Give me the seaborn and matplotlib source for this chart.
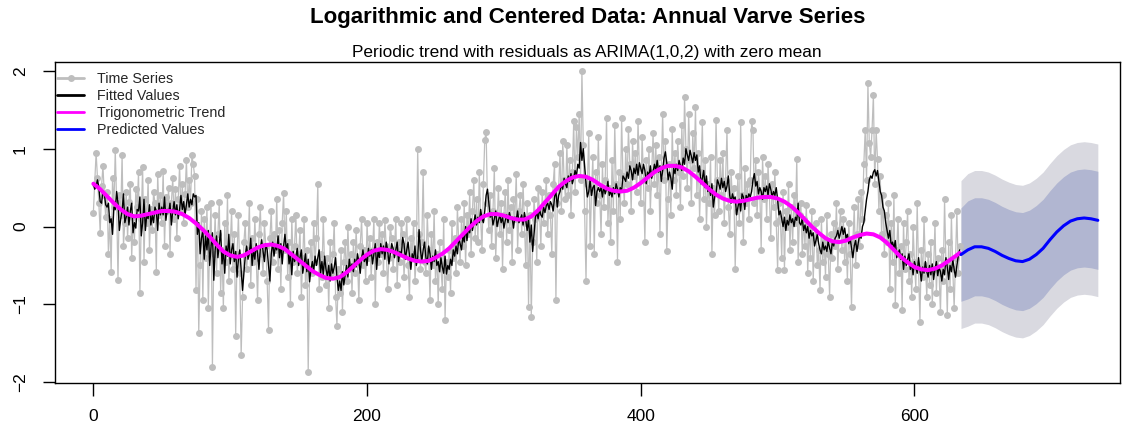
import numpy as np
import matplotlib
matplotlib.use("Agg")
import matplotlib.pyplot as plt
import seaborn as sns
from matplotlib.lines import Line2D

# ---------------- data ----------------
log_varve = [
    0.18, 0.55, 0.95, 0.62, 0.30, -0.08, 0.52, 0.78, 0.40, 0.12,
    0.45, -0.35, 0.10, -0.58, 0.62, 0.25, 0.98, 0.30, -0.69, 0.40,
    0.15, 0.92, -0.25, 0.05, 0.45, -0.15, 0.32, 0.55, -0.40, 0.12,
    -0.20, 0.48, 0.25, 0.70, -0.86, 0.10, 0.77, -0.45, 0.35, 0.05,
    0.60, -0.30, 0.22, -0.05, 0.45, 0.30, -0.58, 0.68, 0.15, 0.40,
    0.05, 0.72, -0.25, 0.38, 0.20, 0.50, -0.35, 0.30, 0.62, 0.10,
    0.48, -0.15, 0.35, 0.78, 0.20, 0.55, 0.05, 0.42, 0.85, 0.25,
    0.60, 0.30, 0.92, 0.80, 0.65, -0.82, 0.35, -1.37, -0.50, 0.20,
    -0.95, 0.10, -0.40, 0.25, -1.05, -0.20, 0.30, -1.80, -0.35, 0.15,
    -0.60, -0.10, 0.32, -0.85, -0.30, -1.05, 0.05, -0.45, 0.40, -0.70,
    -0.25, 0.20, -0.55, -0.10, -1.40, -0.35, 0.15, -0.60, -1.65, -0.90,
    -0.20, 0.05, -0.55, -0.30, 0.30, -0.75, -0.15, -0.45, 0.10, -0.40,
    -0.95, -0.10, 0.25, -0.35, -0.60, 0.05, -0.25, -0.70, -1.33, -0.15,
    0.20, -0.45, -0.10, -0.30, 0.35, -0.55, -0.05, -0.80, 0.05, 0.43,
    -0.30, 0.20, -0.65, -0.20, -1.00, 0.10, -0.45, -0.25, 0.15, -0.60,
    -0.35, -0.05, -0.90, -0.40, 0.10, -0.75, -0.30, -1.87, -0.55, -0.20,
    -0.60, 0.05, -0.45, -0.15, 0.55, -0.80, -0.35, -0.65, 0.10, -0.50,
    -0.75, -0.40, -1.05, -0.20, -0.60, -0.35, 0.05, -0.90, -1.28, -0.55,
    -0.85, -0.30, -1.10, -0.45, -0.20, -0.70, 0.00, -0.55, -0.35, -0.85,
    -0.20, -0.60, -0.05, -0.45, -0.95, -0.25, 0.10, -0.50, -0.30, -0.70,
    0.05, -0.40, -0.15, -0.65, -0.30, 0.10, -1.00, -0.20, -0.45, 0.05,
    -0.35, -0.10, -0.60, 0.08, -0.25, -0.80, -0.40, 0.00, -0.15, -0.55,
    -0.30, 0.10, -0.75, -0.20, -0.45, 0.05, -0.10, -0.65, -0.25, 0.10,
    -0.50, -0.90, -0.15, -0.35, 0.05, -0.70, -0.40, 1.00, -0.10, -0.55,
    -0.20, 0.70, -0.45, -0.60, 0.15, -0.30, -0.95, -0.10, -0.50, 0.20,
    -0.70, -0.35, -1.00, -0.20, -0.55, -0.80, 0.10, -1.20, -0.45, -0.65,
    -0.30, -0.85, 0.05, -0.40, -0.15, -0.60, 0.25, -0.20, -0.45, 0.10,
    -0.25, 0.30, -0.50, 0.15, -0.10, 0.45, -0.35, 0.20, 0.60, -0.15,
    0.35, -0.20, 0.70, 0.10, -0.30, 0.55, 1.11, 1.22, 0.30, -0.05,
    0.40, -0.25, 0.20, 0.75, -0.40, 0.05, 0.50, -0.10, 0.30, -0.55,
    0.15, 0.45, -0.20, 0.60, -0.05, 0.25, -0.45, 0.35, 0.10, 0.68,
    -0.30, 0.20, 0.40, -0.10, 0.55, 0.05, -0.50, 0.30, -1.03, 0.15,
    -1.16, -0.20, 0.35, 0.10, -0.45, 0.50, 0.20, -0.25, 0.45, 0.05,
    0.30, 0.60, -0.10, 0.40, 0.15, -0.35, 0.55, 0.80, -0.95, 0.30,
    0.50, 0.95, 0.20, 1.10, 0.60, 0.35, 1.05, 0.40, 0.85, 0.15,
    0.70, 1.35, 0.45, 1.28, 0.90, 1.45, 0.60, 2.00, 1.05, 0.20,
    -0.70, 0.55, 1.20, -0.25, 0.45, 0.90, -0.35, 0.70, 0.30, 1.15,
    0.40, -0.10, 0.80, 0.25, 0.60, 1.40, 0.05, 0.50, -0.20, 0.85,
    0.20, 1.30, 0.55, -0.45, 0.70, 0.10, 1.40, 0.65, 0.30, 1.00,
    0.55, 1.25, 0.80, 0.20, 1.10, 0.65, 0.95, 0.45, 1.35, 0.75,
    0.30, 1.15, 0.60, -0.20, 0.85, 0.50, 1.00, 0.20, 0.70, 1.20,
    0.55, 1.05, 0.40, 0.90, -0.10, 0.75, 1.45, 0.60, 1.10, -0.32,
    0.35, 0.80, 0.15, 1.25, 0.60, 0.95, 0.40, 1.10, 0.70, 0.25,
    1.30, 0.65, 1.67, 1.00, 0.50, 1.45, 0.85, 0.30, 1.20, 0.75,
    1.54, 0.40, 0.95, 0.10, 0.70, 1.34, 0.35, 0.85, 0.00, 0.55,
    0.30, 0.90, -0.35, 0.50, 0.15, 1.37, 0.60, 0.20, 0.85, 0.40,
    0.95, 0.05, 0.60, 1.24, 0.25, -0.10, 0.70, 0.35, 0.50, -0.54,
    0.20, 0.65, 0.05, 1.34, 0.40, -0.20, 0.75, 0.30, 0.55, 0.10,
    0.60, 1.35, 1.24, 0.30, 0.85, 0.15, 0.70, 0.45, -0.30, 0.90,
    0.35, 0.65, 0.10, 0.80, 0.40, -0.15, 0.55, 0.25, 0.70, 0.05,
    -0.56, 0.30, 0.10, -0.40, 0.45, -0.56, 0.20, 0.00, 0.55, -0.30,
    0.25, -0.20, 0.40, 0.05, 0.87, -0.45, 0.15, 0.30, -0.35, 0.10,
    -0.25, 0.28, -0.60, 0.00, -0.40, 0.20, -0.70, -0.15, 0.05, -0.50,
    -0.30, -0.82, 0.10, -0.45, -0.20, -0.65, 0.15, -0.35, -0.90, -0.10,
    -0.40, 0.05, -0.25, 0.30, -0.55, -0.05, 0.20, -0.30, 0.10, -0.45,
    -0.15, -0.70, 0.05, -0.35, -1.03, -0.20, 0.25, -0.50, -0.10, 0.35,
    -0.25, 0.45, 0.10, 0.80, 1.24, 0.60, 1.84, 1.07, 0.90, 1.24,
    1.69, 0.55, 1.24, 0.87, 0.20, 0.65, -0.10, 0.40, -0.35, 0.15,
    -0.20, 0.30, -0.80, 0.05, -0.45, 0.40, -1.01, -0.30, 0.10, -0.60,
    -0.25, -1.07, 0.05, -0.55, -0.20, 0.20, -0.70, -0.35, -0.90, 0.00,
    -0.45, -0.80, 0.30, -0.55, -1.22, -0.30, -0.65, 0.10, -0.50, -0.90,
    -0.35, -0.75, -0.20, -1.00, -0.55, 0.05, -0.85, -0.40, -0.60, -1.10,
    -0.30, -0.70, 0.35, -0.45, -1.14, -0.20, -0.80, 0.15, -0.55, -1.05,
    -0.40, 0.20, -0.60, -0.25,
]

fitted_vals = [
    0.55, 0.48, 0.52, 0.60, 0.50, 0.32, 0.30, 0.45, 0.42, 0.28,
    0.25, 0.30, 0.05, 0.10, -0.10, 0.25, 0.22, 0.45, 0.30, -0.05,
    0.10, 0.20, 0.42, 0.05, 0.12, 0.25, 0.02, 0.20, 0.30, -0.08,
    0.05, -0.02, 0.22, 0.20, 0.38, -0.12, 0.05, 0.35, -0.05, 0.15,
    0.10, 0.28, 0.02, 0.15, 0.05, 0.25, 0.20, -0.05, 0.30, 0.15,
    0.25, 0.15, 0.38, 0.08, 0.22, 0.18, 0.30, 0.02, 0.20, 0.32,
    0.15, 0.28, 0.10, 0.22, 0.40, 0.22, 0.32, 0.15, 0.28, 0.42,
    0.25, 0.35, 0.28, 0.42, 0.38, 0.40, -0.10, 0.05, -0.35, -0.15,
    -0.05, -0.42, -0.12, -0.30, -0.05, -0.50, -0.25, -0.08, -0.69, -0.30,
    -0.12, -0.40, -0.22, -0.05, -0.48, -0.30, -0.60, -0.25, -0.38, -0.10,
    -0.48, -0.30, -0.22, -0.45, -0.32, -0.65, -0.42, -0.30, -0.55, -0.82,
    -0.60, -0.38, -0.25, -0.42, -0.35, -0.15, -0.50, -0.30, -0.42, -0.22,
    -0.35, -0.55, -0.28, -0.17, -0.32, -0.45, -0.22, -0.30, -0.50, -0.70,
    -0.35, -0.20, -0.38, -0.25, -0.30, -0.12, -0.40, -0.22, -0.48, -0.25,
    -0.10, -0.30, -0.22, -0.48, -0.35, -0.62, -0.32, -0.45, -0.38, -0.28,
    -0.50, -0.40, -0.30, -0.60, -0.48, -0.35, -0.58, -0.42, -0.71, -0.55,
    -0.45, -0.58, -0.38, -0.50, -0.40, -0.30, -0.60, -0.45, -0.62, -0.38,
    -0.55, -0.64, -0.50, -0.70, -0.48, -0.60, -0.52, -0.40, -0.65, -0.82,
    -0.70, -0.82, -0.58, -0.75, -0.62, -0.50, -0.65, -0.42, -0.55, -0.48,
    -0.58, -0.42, -0.52, -0.35, -0.45, -0.60, -0.40, -0.30, -0.45, -0.38,
    -0.50, -0.28, -0.38, -0.30, -0.48, -0.35, -0.22, -0.55, -0.32, -0.40,
    -0.22, -0.35, -0.25, -0.42, -0.20, -0.30, -0.48, -0.35, -0.22, -0.28,
    -0.40, -0.30, -0.20, -0.45, -0.32, -0.38, -0.14, -0.22, -0.42, -0.30,
    -0.20, -0.38, -0.55, -0.35, -0.42, -0.25, -0.50, -0.40, -0.04, -0.30,
    -0.45, -0.30, -0.20, -0.40, -0.48, -0.25, -0.35, -0.55, -0.38, -0.45,
    -0.30, -0.50, -0.45, -0.58, -0.40, -0.52, -0.60, -0.38, -0.61, -0.50,
    -0.55, -0.42, -0.50, -0.30, -0.38, -0.25, -0.35, -0.15, -0.22, -0.30,
    -0.12, -0.20, 0.00, -0.18, -0.02, -0.08, 0.10, -0.05, 0.05, 0.15,
    0.02, 0.12, 0.05, 0.22, 0.10, 0.05, 0.20, 0.40, 0.48, 0.30,
    0.12, 0.18, 0.02, 0.10, 0.20, 0.00, 0.08, 0.15, 0.05, 0.12,
    -0.02, 0.08, 0.15, 0.05, 0.18, 0.10, 0.12, -0.02, 0.12, 0.08,
    0.20, 0.05, 0.10, 0.15, 0.02, 0.18, 0.08, -0.05, 0.10, -0.20,
    0.02, -0.32, -0.10, 0.12, 0.18, 0.10, 0.22, 0.15, 0.12, 0.25,
    0.18, 0.27, 0.30, 0.22, 0.32, 0.28, 0.20, 0.38, 0.45, 0.25,
    0.40, 0.45, 0.55, 0.48, 0.62, 0.55, 0.50, 0.65, 0.58, 0.68,
    0.55, 0.62, 0.72, 0.65, 0.80, 0.75, 1.08, 0.85, 1.00, 0.78,
    0.55, 0.38, 0.45, 0.60, 0.40, 0.50, 0.53, 0.27, 0.45, 0.50,
    0.45, 0.50, 0.38, 0.52, 0.42, 0.48, 0.58, 0.40, 0.45, 0.38,
    0.50, 0.42, 0.55, 0.48, 0.38, 0.50, 0.45, 0.65, 0.62, 0.58,
    0.70, 0.62, 0.78, 0.72, 0.60, 0.75, 0.68, 0.80, 0.66, 0.82,
    0.75, 0.68, 0.80, 0.72, 0.55, 0.70, 0.65, 0.78, 0.62, 0.70,
    0.80, 0.72, 0.85, 0.70, 0.78, 0.58, 0.72, 0.88, 0.96, 0.82,
    0.60, 0.70, 0.62, 0.48, 0.75, 0.68, 0.80, 0.72, 0.85, 0.78,
    0.72, 0.88, 0.80, 1.00, 0.92, 0.85, 0.98, 0.90, 0.82, 0.95,
    0.85, 0.92, 0.70, 0.78, 0.55, 0.62, 0.72, 0.50, 0.65, 0.45,
    0.52, 0.40, 0.55, 0.25, 0.38, 0.42, 0.60, 0.55, 0.48, 0.62,
    0.50, 0.58, 0.45, 0.52, 0.65, 0.40, 0.30, 0.42, 0.35, 0.38,
    0.15, 0.25, 0.35, 0.20, 0.42, 0.38, 0.22, 0.40, 0.35, 0.42,
    0.38, 0.45, 0.60, 0.68, 0.52, 0.58, 0.42, 0.50, 0.45, 0.35,
    0.50, 0.45, 0.52, 0.40, 0.55, 0.48, 0.38, 0.45, 0.40, 0.50,
    0.35, 0.15, 0.20, 0.10, 0.00, 0.12, -0.05, 0.08, 0.02, 0.15,
    0.05, 0.10, 0.00, 0.12, 0.08, 0.30, 0.05, 0.02, 0.10, -0.05,
    0.02, -0.08, 0.00, -0.15, -0.05, -0.12, -0.08, -0.25, -0.18, -0.10,
    -0.22, -0.30, -0.35, -0.20, -0.30, -0.25, -0.32, -0.18, -0.28, -0.35,
    -0.20, -0.25, -0.15, -0.12, -0.05, -0.15, -0.08, 0.00, -0.10, -0.02,
    -0.15, -0.10, -0.22, -0.15, -0.28, -0.40, -0.25, -0.18, -0.32, -0.20,
    -0.10, -0.15, 0.00, 0.05, 0.20, 0.35, 0.45, 0.60, 0.65, 0.62,
    0.70, 0.73, 0.65, 0.72, 0.58, 0.45, 0.40, 0.25, 0.20, 0.05,
    -0.05, -0.15, -0.05, -0.25, -0.20, -0.28, -0.18, -0.40, -0.35, -0.30,
    -0.42, -0.35, -0.55, -0.38, -0.50, -0.42, -0.35, -0.55, -0.48, -0.62,
    -0.45, -0.52, -0.60, -0.40, -0.55, -0.70, -0.52, -0.60, -0.45, -0.58,
    -0.65, -0.50, -0.62, -0.48, -0.68, -0.55, -0.45, -0.63, -0.52, -0.58,
    -0.70, -0.55, -0.62, -0.40, -0.52, -0.68, -0.50, -0.58, -0.42, -0.55,
    -0.65, -0.50, -0.38, -0.30,
]

# trigonometric trend, sampled every 5 years (last one at year 633)
trend_t = list(range(0, 631, 5)) + [633]
trend_vals = [
    0.55, 0.48, 0.39, 0.30, 0.22, 0.16, 0.13, 0.14, 0.16, 0.18,
    0.20, 0.20, 0.19, 0.16, 0.11, 0.04, -0.04, -0.13, -0.23, -0.32,
    -0.37, -0.39, -0.37, -0.32, -0.27, -0.24, -0.23, -0.25, -0.29, -0.36,
    -0.43, -0.50, -0.57, -0.62, -0.66, -0.67, -0.65, -0.59, -0.51, -0.43,
    -0.36, -0.31, -0.29, -0.30, -0.33, -0.37, -0.41, -0.44, -0.45, -0.44,
    -0.40, -0.35, -0.28, -0.19, -0.10, -0.01, 0.07, 0.13, 0.16, 0.16,
    0.14, 0.11, 0.09, 0.09, 0.13, 0.21, 0.31, 0.41, 0.51, 0.58,
    0.63, 0.65, 0.64, 0.60, 0.54, 0.49, 0.46, 0.45, 0.46, 0.50,
    0.56, 0.63, 0.70, 0.75, 0.78, 0.78, 0.76, 0.71, 0.64, 0.56,
    0.48, 0.41, 0.36, 0.33, 0.32, 0.33, 0.35, 0.37, 0.38, 0.38,
    0.36, 0.32, 0.26, 0.18, 0.09, 0.00, -0.08, -0.15, -0.19, -0.20,
    -0.18, -0.14, -0.11, -0.09, -0.10, -0.14, -0.21, -0.30, -0.39, -0.46,
    -0.52, -0.55, -0.56, -0.54, -0.50, -0.44, -0.38, -0.34,
]

# forecast (every 5 years from 634 to 734)
fc_t = list(range(634, 735, 5))
fc_mean = [-0.36, -0.30, -0.26, -0.26, -0.28, -0.32, -0.37, -0.41, -0.44, -0.45,
           -0.42, -0.36, -0.28, -0.17, -0.07, 0.01, 0.07, 0.10, 0.11, 0.10, 0.08]
fc_hi80 = [0.24, 0.33, 0.37, 0.37, 0.35, 0.31, 0.26, 0.22, 0.19, 0.18,
           0.21, 0.27, 0.35, 0.46, 0.56, 0.64, 0.70, 0.73, 0.74, 0.73, 0.71]
fc_lo80 = [-0.96, -0.93, -0.89, -0.89, -0.91, -0.95, -1.00, -1.04, -1.07, -1.08,
           -1.05, -0.99, -0.91, -0.80, -0.70, -0.62, -0.56, -0.53, -0.52, -0.53, -0.55]
fc_hi95 = [0.59, 0.68, 0.72, 0.72, 0.70, 0.66, 0.61, 0.57, 0.54, 0.53,
           0.56, 0.62, 0.70, 0.81, 0.91, 0.99, 1.05, 1.08, 1.09, 1.08, 1.06]
fc_lo95 = [-1.31, -1.28, -1.24, -1.24, -1.26, -1.30, -1.35, -1.39, -1.42, -1.43,
           -1.40, -1.34, -1.26, -1.15, -1.05, -0.97, -0.91, -0.88, -0.87, -0.88, -0.90]

x_ticks = [0, 200, 400, 600]
y_ticks = [-2, -1, 0, 1, 2]
legend_labels = ["Time Series", "Fitted Values", "Trigonometric Trend", "Predicted Values"]

t_obs = np.arange(len(log_varve))

# ---------------- styling ----------------
sns.set_theme(style="ticks")
plt.rcParams["font.family"] = ["Liberation Sans", "DejaVu Sans"]

C_SERIES = "#BEBEBE"
C_FIT = "#000000"
C_TREND = "#FF00FF"
C_PRED = "#0000FF"
C_BAND95 = "#D9D9E0"
C_BAND80 = "#B1B6D1"

W, H = 1134, 428
fig = plt.figure(figsize=(W / 100, H / 100), dpi=100)
ax_l, ax_r, ax_t, ax_b = 54.5, 1120, 61.7, 383
ax = fig.add_axes([ax_l / W, 1 - ax_b / H, (ax_r - ax_l) / W, (ax_b - ax_t) / H])

ax.fill_between(fc_t, fc_lo95, fc_hi95, color=C_BAND95, linewidth=0, zorder=1)
ax.fill_between(fc_t, fc_lo80, fc_hi80, color=C_BAND80, linewidth=0, zorder=1.1)

sns.lineplot(x=t_obs, y=log_varve, ax=ax, color=C_SERIES, linewidth=0.9,
             marker="o", markersize=5.0, markeredgewidth=0,
             estimator=None, sort=False, zorder=2)
sns.lineplot(x=t_obs, y=fitted_vals, ax=ax, color=C_FIT, linewidth=1.0,
             estimator=None, sort=False, zorder=3)
sns.lineplot(x=trend_t, y=trend_vals, ax=ax, color=C_TREND, linewidth=2.9,
             estimator=None, sort=False, zorder=4)
sns.lineplot(x=fc_t, y=fc_mean, ax=ax, color=C_PRED, linewidth=2.2,
             estimator=None, sort=False, zorder=5)

ax.set_xlim(-28.4, 750.2)
ax.set_ylim(-2.01, 2.118)
ax.set_xticks(x_ticks)
ax.set_xticklabels([str(v) for v in x_ticks])
ax.set_yticks(y_ticks)
ax.set_yticklabels([str(v).replace("-", "\u2212") for v in y_ticks], rotation=90, va="center")
ax.tick_params(axis="both", direction="out", length=9, width=1, color="black",
               labelsize=12.5, labelcolor="black", pad=10)
ax.set_xlabel("")
ax.set_ylabel("")
for s in ax.spines.values():
    s.set_visible(True)
    s.set_color("black")
    s.set_linewidth(1.0)

handles = [
    Line2D([], [], color=C_SERIES, linewidth=2.0, marker="o", markersize=5.0, markeredgewidth=0),
    Line2D([], [], color=C_FIT, linewidth=2.0),
    Line2D([], [], color=C_TREND, linewidth=2.0),
    Line2D([], [], color=C_PRED, linewidth=2.0),
]
ax.legend(handles, legend_labels, loc="upper left",
          bbox_to_anchor=(57.3 / W, 1 - 72 / H), bbox_transform=fig.transFigure,
          frameon=False, fontsize=10.3, handlelength=1.9, handletextpad=0.85,
          labelspacing=0.21, borderpad=0, borderaxespad=0, numpoints=1)

cx = (ax_l + ax_r) / 2 / W
fig.text(cx, 1 - 18 / H, "Logarithmic and Centered Data: Annual Varve Series",
         ha="center", va="center", fontsize=16, fontweight="bold", color="black")
fig.text(cx, 1 - 52 / H, "Periodic trend with residuals as ARIMA(1,0,2) with zero mean",
         ha="center", va="center", fontsize=12.4, color="black")

fig.savefig("out.png", dpi=100, facecolor="white")
